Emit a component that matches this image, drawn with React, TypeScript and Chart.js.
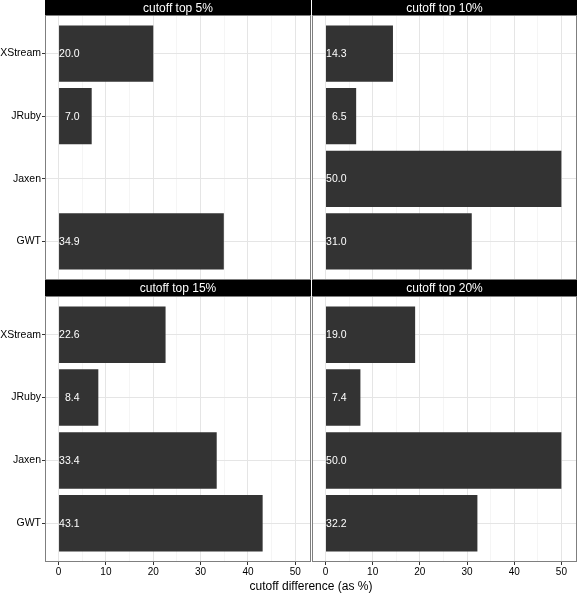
import React, { useEffect, useRef } from "react";
import { Chart, registerables } from "chart.js";
Chart.register(...registerables);

const FONT = '"Liberation Sans", Arial, Helvetica, sans-serif';
Chart.defaults.font.family = FONT;

const categories = ["XStream", "JRuby", "Jaxen", "GWT"];
const panelTitles = ["cutoff top 5%", "cutoff top 10%", "cutoff top 15%", "cutoff top 20%"];
const top5: (number | null)[] = [20.0, 7.0, null, 34.9];
const top10: (number | null)[] = [14.3, 6.5, 50.0, 31.0];
const top15: (number | null)[] = [22.6, 8.4, 33.4, 43.1];
const top20: (number | null)[] = [19.0, 7.4, 50.0, 32.2];
const xMajorTicks = [0, 10, 20, 30, 40, 50];
const xMinorTicks = [5, 15, 25, 35, 45];
const xAxisTitle = "cutoff difference (as %)";

const panelPlugin = {
  id: "panelDeco",
  afterDatasetsDraw(chart: any, _args: any, opts: any) {
    const { ctx } = chart;
    const meta = chart.getDatasetMeta(0);
    const xs = chart.scales.x;
    ctx.save();
    ctx.font = `10.5px ${FONT}`;
    ctx.fillStyle = "#ffffff";
    ctx.textAlign = "right";
    ctx.textBaseline = "middle";
    meta.data.forEach((el: any, i: number) => {
      const v = opts.values[i];
      if (v == null) return;
      ctx.fillText(v.toFixed(1), xs.getPixelForValue(0) + 21, el.y + 0.5);
    });
    ctx.restore();
  },
  afterDraw(chart: any, _args: any, opts: any) {
    const { ctx, chartArea: a } = chart;
    ctx.save();
    ctx.fillStyle = "#000000";
    ctx.fillRect(a.left - 1, opts.stripTop, a.right - a.left + 2, a.top - opts.stripTop);
    ctx.strokeStyle = "#7f7f7f";
    ctx.lineWidth = 1;
    ctx.strokeRect(a.left - 0.5, a.top - 0.5, a.right - a.left + 1, a.bottom - a.top + 1);
    ctx.fillStyle = "#ffffff";
    ctx.font = `12px ${FONT}`;
    ctx.textAlign = "center";
    ctx.textBaseline = "middle";
    ctx.fillText(opts.title, (a.left + a.right) / 2, (opts.stripTop + a.top) / 2 + 0.5);
    ctx.restore();
  },
};

type PanelProps = {
  title: string;
  values: (number | null)[];
  showY: boolean;
  showX: boolean;
  left: number;
  top: number;
  width: number;
  height: number;
  xHeight: number;
  stripTop: number;
  padding: { top: number; right: number; bottom: number; left: number };
};

function Panel(p: PanelProps) {
  const ref = useRef<HTMLCanvasElement>(null);
  useEffect(() => {
    if (!ref.current) return;
    const allX = [...xMajorTicks, ...xMinorTicks].sort((a, b) => a - b);
    const chart = new Chart(ref.current, {
      type: "bar",
      data: {
        datasets: [
          {
            data: p.values.map((v, i) => ({ x: v, y: i })) as any,
            backgroundColor: "#333333",
            borderWidth: 0,
            barPercentage: 0.9,
            categoryPercentage: 1,
          },
        ],
      },
      options: {
        indexAxis: "y",
        responsive: false,
        maintainAspectRatio: false,
        animation: false,
        events: [],
        layout: { padding: p.padding },
        plugins: {
          legend: { display: false },
          tooltip: { enabled: false },
          panelDeco: { title: p.title, values: p.values, stripTop: p.stripTop },
        } as any,
        scales: {
          x: {
            type: "linear",
            min: -2.65,
            max: 53.1,
            offset: false,
            afterBuildTicks: (s: any) => {
              s.ticks = allX.map((v) => ({ value: v }));
            },
            afterFit: (s: any) => {
              s.height = p.xHeight;
            },
            border: { display: false },
            grid: {
              offset: false,
              color: (c: any) =>
                c.tick && xMajorTicks.includes(c.tick.value) ? "#e5e5e5" : "#f5f5f5",
              tickColor: (c: any) =>
                c.tick && xMajorTicks.includes(c.tick.value) ? "#333333" : "rgba(0,0,0,0)",
              drawTicks: p.showX,
              tickLength: 4,
            },
            ticks: {
              display: p.showX,
              autoSkip: false,
              maxRotation: 0,
              padding: 1,
              color: "#000000",
              font: { size: 10 },
              callback: (v: any) => (xMajorTicks.includes(Number(v)) ? String(v) : ""),
            },
          },
          y: {
            type: "linear",
            min: -0.6,
            max: 3.6,
            reverse: true,
            offset: false,
            afterBuildTicks: (s: any) => {
              s.ticks = categories.map((_, i) => ({ value: i }));
            },
            afterFit: (s: any) => {
              s.width = p.showY ? 46 : 0;
            },
            border: { display: false },
            grid: {
              offset: false,
              color: "#e5e5e5",
              tickColor: "#333333",
              drawTicks: p.showY,
              tickLength: 4,
            },
            ticks: {
              display: p.showY,
              autoSkip: false,
              padding: 1,
              color: "#000000",
              font: { size: 10.5 },
              callback: (v: any) => categories[Number(v)] ?? "",
            },
          },
        } as any,
      },
      plugins: [panelPlugin as any],
    });
    return () => chart.destroy();
  }, []);
  return (
    <canvas
      ref={ref}
      width={p.width}
      height={p.height}
      style={{ position: "absolute", left: p.left, top: p.top, width: p.width, height: p.height, display: "block" }}
    />
  );
}

export default function App() {
  return (
    <div
      style={{
        position: "fixed",
        left: 0,
        top: 0,
        width: 577,
        height: 594,
        background: "#ffffff",
        fontFamily: FONT,
        overflow: "hidden",
      }}
    >
      <Panel title={panelTitles[0]} values={top5} showY={true} showX={false}
        left={0} top={0} width={311} height={289} xHeight={10} stripTop={0}
        padding={{ top: 16, right: 1, bottom: 0, left: 0 }} />
      <Panel title={panelTitles[1]} values={top10} showY={false} showX={false}
        left={311} top={0} width={266} height={289} xHeight={10} stripTop={0}
        padding={{ top: 16, right: 1, bottom: 0, left: 2 }} />
      <Panel title={panelTitles[2]} values={top15} showY={true} showX={true}
        left={0} top={280} width={311} height={314} xHeight={20} stripTop={0}
        padding={{ top: 17, right: 1, bottom: 13, left: 0 }} />
      <Panel title={panelTitles[3]} values={top20} showY={false} showX={true}
        left={311} top={280} width={266} height={314} xHeight={20} stripTop={0}
        padding={{ top: 17, right: 1, bottom: 13, left: 2 }} />
      <div
        style={{
          position: "absolute",
          left: 161,
          width: 300,
          top: 579,
          textAlign: "center",
          fontSize: 12,
          lineHeight: "15px",
          color: "#000",
        }}
      >
        {xAxisTitle}
      </div>
    </div>
  );
}
